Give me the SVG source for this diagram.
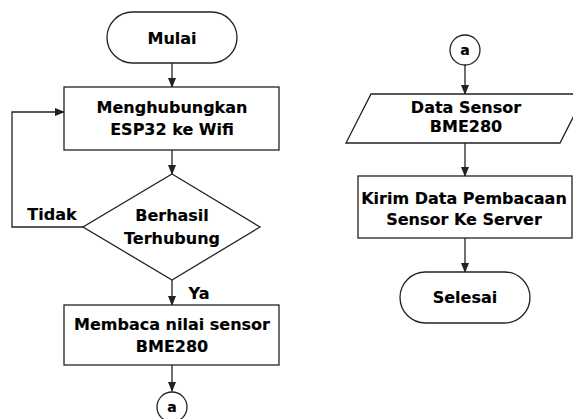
<svg xmlns="http://www.w3.org/2000/svg" width="573" height="419" viewBox="0 0 573 419">
<defs>
<style>
.s{fill:#fff;stroke:#222;stroke-width:1.3}
.c{fill:none;stroke:#222;stroke-width:1.3}
.t{font-family:"DejaVu Sans",Verdana,sans-serif;font-weight:bold;font-size:16px;fill:#000;stroke:#000;stroke-width:0.15;text-anchor:middle}
.sm{font-size:14px}
</style>
<marker id="ah" markerWidth="10" markerHeight="8" refX="9" refY="4" orient="auto" markerUnits="userSpaceOnUse">
<path d="M0,0 L10,4 L0,8 Z" fill="#222"/>
</marker>
</defs>
<rect width="573" height="419" fill="#fff"/>
<g id="connectors">
<line class="c" x1="172" y1="63" x2="172" y2="87" marker-end="url(#ah)"/>
<line class="c" x1="172" y1="150" x2="172" y2="174" marker-end="url(#ah)"/>
<polyline class="c" points="83,227 12,227 12,112 64,112" marker-end="url(#ah)"/>
<line class="c" x1="172" y1="280" x2="172" y2="305" marker-end="url(#ah)"/>
<line class="c" x1="172" y1="365" x2="172" y2="391" marker-end="url(#ah)"/>
<line class="c" x1="465" y1="65" x2="465" y2="94" marker-end="url(#ah)"/>
<line class="c" x1="465" y1="143" x2="465" y2="176" marker-end="url(#ah)"/>
<line class="c" x1="465" y1="238" x2="465" y2="272" marker-end="url(#ah)"/>
<text class="t" x="52" y="220">Tidak</text>
<text class="t" x="199" y="299">Ya</text>
</g>
<g id="mulai">
<rect class="s" x="107" y="12" width="130" height="51" rx="25.5"/>
<text class="t" x="172" y="44">Mulai</text>
</g>
<g id="connect">
<rect class="s" x="64" y="87" width="215" height="63"/>
<text class="t" x="172" y="113">Menghubungkan</text>
<text class="t" x="172" y="135">ESP32 ke Wifi</text>
</g>
<g id="decision">
<polygon class="s" points="172,174 260,227 172,280 83,227"/>
<text class="t" x="172" y="221">Berhasil</text>
<text class="t" x="172" y="244">Terhubung</text>
</g>
<g id="read">
<rect class="s" x="64" y="305" width="215" height="60"/>
<text class="t" x="172" y="330">Membaca nilai sensor</text>
<text class="t" x="172" y="352">BME280</text>
</g>
<g id="a1">
<circle class="s" cx="172" cy="407" r="15"/>
<text class="t sm" x="172" y="412">a</text>
</g>
<g id="a2">
<circle class="s" cx="465" cy="50" r="15"/>
<text class="t sm" x="465" y="55">a</text>
</g>
<g id="data">
<polygon class="s" points="371,94 585,94 560,143 346,143"/>
<text class="t" x="466" y="113">Data Sensor</text>
<text class="t" x="466" y="132">BME280</text>
</g>
<g id="send">
<rect class="s" x="358" y="176" width="214" height="62"/>
<text class="t" x="464" y="204">Kirim Data Pembacaan</text>
<text class="t" x="464" y="225">Sensor Ke Server</text>
</g>
<g id="selesai">
<rect class="s" x="400" y="272" width="130" height="51" rx="25.5"/>
<text class="t" x="465" y="303">Selesai</text>
</g>
</svg>
